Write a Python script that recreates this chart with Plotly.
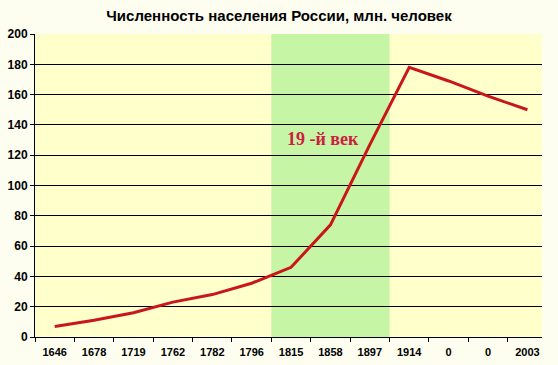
import plotly.graph_objects as go

years = ["1646", "1678", "1719", "1762", "1782", "1796", "1815", "1858", "1897", "1914", "0", "0", "2003"]
population = [7, 11, 16, 23, 28, 35.5, 46, 74, 127, 178, 169, 159, 150]
century_band = (6, 8)  # indices of categories covered by the 19th-century band
yticks = list(range(0, 201, 20))

xs = list(range(len(years)))

fig = go.Figure()
fig.add_trace(go.Scatter(
    x=xs, y=population, mode="lines",
    line=dict(color="#c8161a", width=3),
    hoverinfo="skip", showlegend=False,
))

fig.add_shape(type="rect", xref="x", yref="y",
              x0=century_band[0] - 0.5, x1=century_band[1] + 0.5, y0=0, y1=200,
              fillcolor="#c6f5a6", line=dict(width=0), layer="below")

fig.add_annotation(x=6.8, y=131, xref="x", yref="y", text="<b>19 -й век</b>",
                   showarrow=False,
                   font=dict(family="Liberation Serif, Times New Roman, serif", size=18, color="#cc2040"))

fig.update_layout(
    width=558, height=365,
    margin=dict(l=35, r=16, t=34, b=28, autoexpand=False),
    paper_bgcolor="#fdfdf0",
    plot_bgcolor="#ffffcc",
    title=dict(text="<b>Численность населения России, млн. человек</b>",
               x=0.5, xanchor="center", y=1 - 16 / 365, yanchor="middle",
               font=dict(family="Liberation Sans, Arial, sans-serif", size=15, color="#000000")),
    font=dict(family="Liberation Sans, Arial, sans-serif", color="#000000"),
)

fig.update_xaxes(
    range=[-0.5, 12.37], automargin=False,
    tickmode="array", tickvals=xs, ticktext=[f"<b>{t}</b>" for t in years],
    tickfont=dict(size=11, color="#000000"),
    ticks="", showgrid=False, zeroline=False,
    ticklabelstandoff=5,
    showline=True, linecolor="#000000", linewidth=1,
    minor=dict(tickmode="linear", tick0=-0.5, dtick=1, ticks="outside",
               ticklen=4, tickcolor="#000000", tickwidth=1, showgrid=False),
    fixedrange=True,
)
fig.update_yaxes(
    range=[0, 200], automargin=False,
    tickmode="array", tickvals=yticks, ticktext=[f"<b>{v}</b>" for v in yticks],
    tickfont=dict(size=12, color="#000000"),
    ticks="outside", ticklen=4, tickcolor="#000000",
    showgrid=True, gridcolor="#000000", gridwidth=1,
    zeroline=False, showline=True, linecolor="#000000", linewidth=1,
    fixedrange=True,
)

fig.write_html("out.html")
